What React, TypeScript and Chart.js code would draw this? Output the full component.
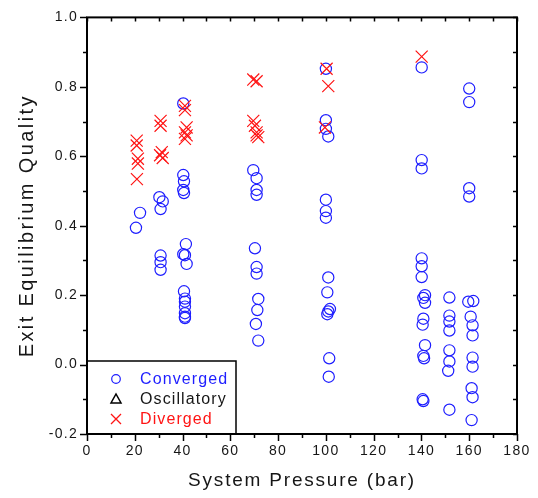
import { useEffect, useRef } from "react";
import { Chart, registerables } from "chart.js";

Chart.register(...registerables);

// ---- data ----
const convergedPressure = [
  20.5, 22.2,
  30.3, 31.7, 30.8, 30.8, 30.8, 30.8,
  40.3, 40.3, 40.6, 40.3, 40.6, 41.4, 40.3, 41.0, 41.7, 40.6, 41.0, 41.0, 41.0, 41.0, 41.0, 41.0,
  69.6, 71.0, 71.0, 71.0, 70.3, 71.0, 71.0, 71.7, 71.3, 70.7, 71.7,
  100.0, 100.0, 100.0, 101.0, 100.0, 100.0, 100.0, 101.0, 100.6, 101.7, 101.0, 100.6, 101.4, 101.2,
  140.1, 140.1, 140.1, 140.1, 140.1, 140.1, 141.5, 140.8, 141.5, 140.8, 140.5, 141.5, 140.8, 141.1, 140.5, 140.8,
  151.7, 151.7, 151.7, 151.7, 151.7, 151.7, 151.2, 151.7,
  160.0, 160.0, 160.0, 160.0,
  159.6, 161.7, 160.6, 161.4, 161.4, 161.4, 161.4, 161.0, 161.4, 161.0,
];
const convergedQuality = [
  0.394, 0.437,
  0.482, 0.47, 0.448, 0.314, 0.295, 0.273,
  0.752, 0.546, 0.528, 0.503, 0.494, 0.347, 0.318, 0.315, 0.29, 0.211, 0.19, 0.181, 0.167, 0.148, 0.138, 0.134,
  0.56, 0.537, 0.503, 0.489, 0.335, 0.281, 0.262, 0.189, 0.157, 0.117, 0.069,
  0.852, 0.704, 0.679, 0.657, 0.475, 0.442, 0.423, 0.251, 0.208, 0.16, 0.153, 0.145, 0.018, -0.035,
  0.856, 0.589, 0.565, 0.306, 0.283, 0.252, 0.2, 0.192, 0.178, 0.132, 0.115, 0.056, 0.025, 0.018, -0.1, -0.105,
  0.193, 0.141, 0.124, 0.098, 0.041, 0.009, -0.018, -0.13,
  0.795, 0.756, 0.508, 0.484,
  0.181, 0.183, 0.138, 0.113, 0.084, 0.02, -0.006, -0.068, -0.094, -0.16,
];

const oscillatoryPressure: number[] = [];
const oscillatoryQuality: number[] = [];

const divergedPressure = [
  20.8, 20.8, 21.3, 21.3, 20.9,
  30.8, 30.8, 31.3, 30.6, 31.7,
  41.0, 41.0, 41.7, 41.0, 41.7, 41.0,
  69.6, 71.0, 69.6, 70.3, 71.0, 71.0, 71.7,
  100.3, 101.0, 99.6,
  140.1,
];
const divergedQuality = [
  0.645, 0.631, 0.593, 0.579, 0.534,
  0.702, 0.688, 0.612, 0.603, 0.595,
  0.745, 0.733, 0.683, 0.669, 0.66, 0.65,
  0.821, 0.816, 0.702, 0.688, 0.669, 0.66, 0.655,
  0.852, 0.802, 0.683,
  0.887,
];

const xMin = 0;
const xMax = 180;
const xStep = 20;
const yMin = -0.2;
const yMax = 1.0;
const yStep = 0.2;

const seriesNames = ["Converged", "Oscillatory", "Diverged"];
const xTitle = "System Pressure (bar)";
const yTitle = "Exit Equilibrium Quality";

const BLUE = "rgb(30,30,255)";
const RED = "rgb(255,20,20)";
const DARK = "#161616";
const FONT = "Arial, 'Liberation Sans', sans-serif";

const toPoints = (xs: number[], ys: number[]) => xs.map((x, i) => ({ x, y: ys[i] }));

const framePlugin = {
  id: "frameAndLegend",
  beforeDraw(chart: any) {
    chart.ctx.letterSpacing = "1.3px";
  },
  afterDraw(chart: any) {
    const { ctx, chartArea: ca, scales } = chart;
    const xs = scales.x;
    const ys = scales.y;
    ctx.save();
    ctx.letterSpacing = "0px";
    ctx.strokeStyle = "#000";
    // ticks
    ctx.lineWidth = 1.5;
    ctx.beginPath();
    for (let v = xMin; v <= xMax + 1e-9; v += xStep / 2) {
      const px = Math.round(xs.getPixelForValue(v)) + 0.5;
      const major = Math.abs((v / xStep) - Math.round(v / xStep)) < 1e-6;
      ctx.moveTo(px, ca.bottom);
      ctx.lineTo(px, ca.bottom + (major ? 7 : 4));
      ctx.moveTo(px, ca.top);
      ctx.lineTo(px, ca.top + 4);
    }
    for (let i = 0; i <= Math.round((yMax - yMin) / (yStep / 2)); i++) {
      const v = yMin + i * (yStep / 2);
      const py = Math.round(ys.getPixelForValue(v)) + 0.5;
      const major = i % 2 === 0;
      ctx.moveTo(ca.left - (major ? 7 : 4), py);
      ctx.lineTo(ca.left, py);
      ctx.moveTo(ca.right - 4, py);
      ctx.lineTo(ca.right, py);
    }
    ctx.stroke();
    // frame
    ctx.lineWidth = 2;
    ctx.strokeRect(ca.left, ca.top, ca.right - ca.left, ca.bottom - ca.top);

    // legend box
    const bx = ca.left;
    const bw = 149;
    const bh = 73;
    const by = ca.bottom - bh;
    ctx.fillStyle = "#fff";
    ctx.fillRect(bx + 1, by, bw, bh - 1);
    ctx.lineWidth = 1.5;
    ctx.strokeRect(bx, by, bw, bh);
    const rows = [by + 18, by + 38, by + 58];
    const mx = bx + 29;
    // converged marker
    ctx.lineWidth = 1.2;
    ctx.strokeStyle = BLUE;
    ctx.beginPath();
    ctx.arc(mx, rows[0], 4.3, 0, Math.PI * 2);
    ctx.stroke();
    // oscillatory marker
    ctx.strokeStyle = "#000";
    ctx.lineWidth = 1.5;
    ctx.beginPath();
    ctx.moveTo(mx - 5, rows[1] + 4);
    ctx.lineTo(mx + 5, rows[1] + 4);
    ctx.lineTo(mx, rows[1] - 5);
    ctx.closePath();
    ctx.stroke();
    // diverged marker
    ctx.strokeStyle = RED;
    ctx.lineWidth = 1.3;
    ctx.beginPath();
    ctx.moveTo(mx - 5, rows[2] - 5);
    ctx.lineTo(mx + 5, rows[2] + 5);
    ctx.moveTo(mx + 5, rows[2] - 5);
    ctx.lineTo(mx - 5, rows[2] + 5);
    ctx.stroke();
    ctx.font = `16px ${FONT}`;
    ctx.letterSpacing = "1.1px";
    ctx.textAlign = "left";
    ctx.textBaseline = "middle";
    const colors = [BLUE, DARK, RED];
    seriesNames.forEach((n, i) => {
      ctx.fillStyle = colors[i];
      ctx.fillText(n, bx + 53, rows[i] + 1);
    });

    // axis titles
    ctx.fillStyle = DARK;
    ctx.textAlign = "center";
    ctx.font = `19px ${FONT}`;
    ctx.letterSpacing = "1.8px";
    ctx.fillText(xTitle, (ca.left + ca.right) / 2, 481);
    ctx.save();
    ctx.translate(27, (ca.top + ca.bottom) / 2);
    ctx.rotate(-Math.PI / 2);
    ctx.font = `20px ${FONT}`;
    ctx.letterSpacing = "2.4px";
    ctx.fillText(yTitle, 0, 0);
    ctx.restore();
    ctx.restore();
  },
};

export default function App() {
  const ref = useRef<HTMLCanvasElement | null>(null);
  useEffect(() => {
    if (!ref.current) return;
    const chart = new Chart(ref.current, {
      type: "scatter",
      data: {
        datasets: [
          {
            label: seriesNames[0],
            data: toPoints(convergedPressure, convergedQuality),
            pointStyle: "circle",
            pointRadius: 5.6,
            pointHoverRadius: 5.6,
            borderColor: BLUE,
            backgroundColor: "rgba(0,0,0,0)",
            borderWidth: 1.2,
            order: 3,
          },
          {
            label: seriesNames[1],
            data: toPoints(oscillatoryPressure, oscillatoryQuality),
            pointStyle: "triangle",
            pointRadius: 6,
            borderColor: "#000",
            backgroundColor: "rgba(0,0,0,0)",
            borderWidth: 1.2,
            order: 2,
          },
          {
            label: seriesNames[2],
            data: toPoints(divergedPressure, divergedQuality),
            pointStyle: "crossRot",
            pointRadius: 8.5,
            pointHoverRadius: 8.5,
            borderColor: RED,
            backgroundColor: RED,
            borderWidth: 1.2,
            order: 1,
          },
        ],
      },
      options: {
        responsive: false,
        animation: false,
        events: [],
        layout: { padding: { top: 12, right: 21, left: 0, bottom: 0 } },
        plugins: { legend: { display: false }, tooltip: { enabled: false } },
        scales: {
          x: {
            type: "linear",
            min: xMin,
            max: xMax,
            grid: { display: false, drawTicks: false },
            border: { display: false },
            ticks: {
              stepSize: xStep,
              padding: 9,
              color: DARK,
              font: { family: FONT, size: 14 },
              maxRotation: 0,
            },
            afterFit: (s: any) => {
              s.height = 64;
            },
          },
          y: {
            type: "linear",
            min: yMin,
            max: yMax,
            grid: { display: false, drawTicks: false },
            border: { display: false },
            ticks: {
              stepSize: yStep,
              padding: 9,
              color: DARK,
              font: { family: FONT, size: 14 },
              callback: (v: any) => {
                const n = Number(v);
                return Math.abs(n) < 1e-9 ? "0.0" : n.toFixed(1);
              },
            },
            afterFit: (s: any) => {
              s.width = 87;
            },
          },
        },
      },
      plugins: [framePlugin],
    });
    return () => chart.destroy();
  }, []);
  return (
    <div style={{ position: "absolute", left: 0, top: 0, width: 538, height: 498, background: "#fff" }}>
      <canvas ref={ref} width={538} height={498} />
    </div>
  );
}
